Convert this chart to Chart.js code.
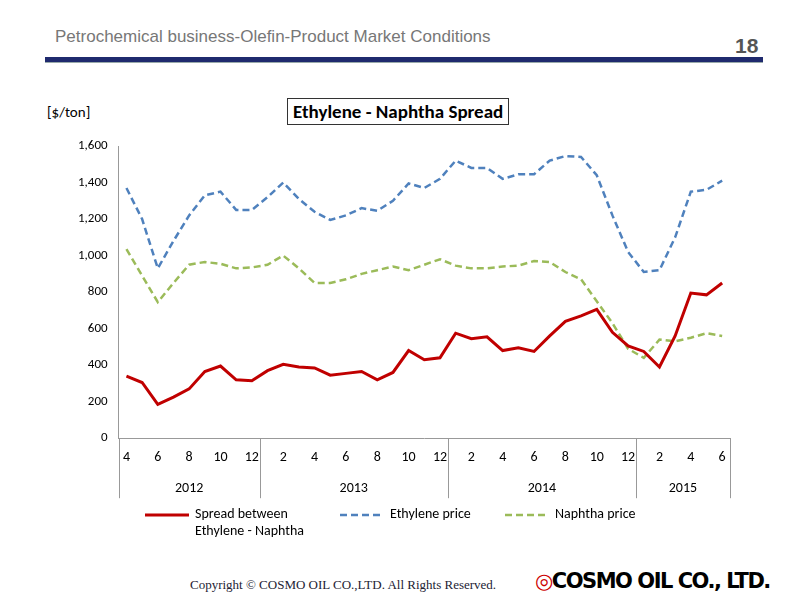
<!DOCTYPE html>
<html><head><meta charset="utf-8">
<script src="https://cdn.jsdelivr.net/npm/chart.js@4"></script>
<style>
body{margin:0;width:800px;height:600px;background:#fff;font-family:"Liberation Sans",Arial,sans-serif;position:relative;overflow:hidden}
#hdr{position:absolute;left:55px;top:27px;font-size:17px;color:#777}
#pg{position:absolute;left:735px;top:34px;font-size:21px;color:#555;font-weight:bold}
#rule{position:absolute;left:45px;top:57px;width:718px;height:5px;background:#1f2a6e;border-bottom:1px solid #9aa}
#unit{position:absolute;left:47px;top:103px;font-size:15px;font-family:Calibri,Carlito,"Liberation Sans";color:#000}
#ttl{position:absolute;left:287px;top:98px;padding:1px 5px;border:1.5px solid #333;font-size:19px;font-weight:bold;font-family:Carlito,"Liberation Sans";}
#wrap{position:absolute;left:60px;top:130px;width:720px;height:380px}
#leg{position:absolute;top:505px;left:145px;font-family:Carlito,"Liberation Sans";font-size:14px}
.li{position:absolute;white-space:nowrap}
.li svg{vertical-align:middle;margin-right:6px}
#copy{position:absolute;left:190px;top:577px;font-family:"Liberation Serif",serif;font-size:13px;color:#223}
#logo{position:absolute;left:535px;top:569px;font-size:21px;font-weight:bold;font-family:"DejaVu Sans";letter-spacing:-1.5px;color:#000;white-space:nowrap}
</style></head><body>
<div id="hdr">Petrochemical business-Olefin-Product Market Conditions</div>
<div id="pg">18</div><div id="rule"></div>
<div id="unit">[$/ton]</div>
<div id="ttl">Ethylene - Naphtha Spread</div>
<div id="wrap"><canvas id="c" width="720" height="380"></canvas></div>
<div id="leg">
<div class="li" style="left:0;top:0"><svg width="44" height="6"><line x1="0" y1="3" x2="44" y2="3" stroke="#c00000" stroke-width="3"/></svg>Spread between<br><span style="margin-left:50px">Ethylene - Naphtha</span></div>
<div class="li" style="left:195px;top:0"><svg width="44" height="6"><line x1="0" y1="3" x2="44" y2="3" stroke="#4f81bd" stroke-width="2.5" stroke-dasharray="7,4"/></svg>Ethylene price</div>
<div class="li" style="left:360px;top:0"><svg width="44" height="6"><line x1="0" y1="3" x2="44" y2="3" stroke="#9bbb59" stroke-width="2.5" stroke-dasharray="7,4"/></svg>Naphtha price</div>
</div>
<div id="copy">Copyright © COSMO OIL CO.,LTD. All Rights Reserved.</div>
<div id="logo"><span style="color:#c00">◎</span>COSMO OIL CO., LTD.</div>
<script>
const months=[4,5,6,7,8,9,10,11,12,1,2,3,4,5,6,7,8,9,10,11,12,1,2,3,4,5,6,7,8,9,10,11,12,1,2,3,4,5,6];
const years=[["2012",9],["2013",12],["2014",12],["2015",6]];
const spread=[340,305,185,225,270,365,395,320,315,370,405,390,385,345,355,365,320,360,480,430,440,575,545,555,480,495,475,560,640,670,705,580,505,475,390,560,795,785,850];
const ethylene=[1370,1200,930,1080,1220,1330,1350,1250,1250,1320,1400,1310,1240,1195,1220,1260,1245,1300,1395,1370,1420,1520,1480,1480,1420,1445,1445,1520,1545,1540,1440,1220,1020,910,920,1100,1350,1360,1410];
const naphtha=[1035,890,745,850,950,965,955,930,935,950,1000,930,850,850,870,900,920,940,920,950,980,945,930,930,940,945,970,965,910,870,750,630,490,440,540,530,550,575,560];
const yearPlugin={id:'yr',afterDraw(ch){
 const x=ch.scales.x,c=ch.ctx,top=ch.chartArea.bottom,bot=top+60;
 c.save();c.strokeStyle='#999';c.lineWidth=1;c.fillStyle='#000';c.font='14px Carlito, "Liberation Sans"';c.textAlign='center';
 const half=(x.getPixelForValue(1)-x.getPixelForValue(0))/2;
 let i=0;const edges=[x.getPixelForValue(0)-half];
 years.forEach(([y,n])=>{const a=x.getPixelForValue(i)-half,b=x.getPixelForValue(i+n-1)+half;edges.push(b);c.fillText(y,(a+b)/2,top+54);i+=n;});
 edges.forEach(e=>{c.beginPath();c.moveTo(Math.round(e)+.5,top);c.lineTo(Math.round(e)+.5,bot);c.stroke();});
 c.restore();}};
new Chart(document.getElementById('c'),{type:'line',
 data:{labels:months.map(String),datasets:[
  {data:spread,borderColor:'#c00000',borderWidth:3,pointRadius:0,tension:0},
  {data:ethylene,borderColor:'#4f81bd',borderWidth:2.5,borderDash:[7,4],pointRadius:0,tension:0},
  {data:naphtha,borderColor:'#9bbb59',borderWidth:2.5,borderDash:[7,4],pointRadius:0,tension:0}]},
 options:{responsive:false,animation:false,
  layout:{padding:{left:15,right:50,top:16,bottom:41}},
  plugins:{legend:{display:false},tooltip:{enabled:false}},
  scales:{
   x:{offset:true,grid:{display:false},border:{color:'#999'},
      ticks:{autoSkip:false,maxRotation:0,color:'#000',font:{size:14,family:'Carlito, "Liberation Sans"'},
        callback:(v,i)=>i%2===0?months[i]:''}},
   y:{min:0,max:1600,grid:{display:false},border:{color:'#999'},
      ticks:{stepSize:200,color:'#000',font:{size:13,family:'Carlito, "Liberation Sans"'},callback:v=>v.toLocaleString('en-US')}}}},
 plugins:[yearPlugin]});
</script>
</body></html>
